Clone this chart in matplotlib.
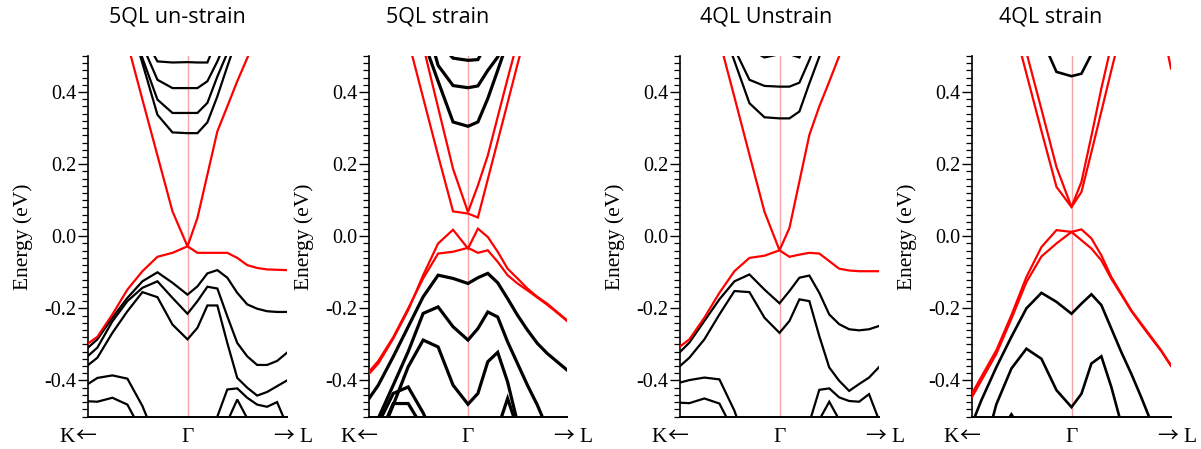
import matplotlib
matplotlib.use("Agg")
import matplotlib.pyplot as plt
from matplotlib.ticker import MultipleLocator

plt.rcParams["axes.unicode_minus"] = False
plt.rcParams["font.family"] = ["Liberation Serif", "DejaVu Serif"]

# k-path sampling: K side is negative, L side positive, Gamma at 0
K_PATH = [-1.057, -0.906, -0.755, -0.604, -0.453, -0.302, -0.151, 0.0,
          0.1, 0.2, 0.3, 0.4, 0.5, 0.6, 0.7, 0.8, 0.9, 1.0]

PANEL_TITLES = ["5QL un-strain", "5QL strain", "4QL Unstrain", "4QL strain"]
# high-symmetry point names at the path ends and centre, with direction arrows
KPOINT_NAMES = ["K", "\u0393", "L"]
KPOINT_ARROWS = ["\u2190", "", "\u2192"]

# ---- 5QL, unstrained: surface (red) and bulk (black) bands, eV ----
QL5_UNSTRAIN_RED = [
    [0.95, 0.85, 0.70, 0.536, 0.379, 0.224, 0.069, -0.028, 0.051, 0.171, 0.291, 0.360, 0.430, 0.494, 0.560, 0.620, 0.680, 0.740],
    [-0.309, -0.279, -0.217, -0.148, -0.097, -0.057, -0.046, -0.028, -0.046, -0.046, -0.046, -0.046, -0.060, -0.080, -0.088, -0.092, -0.093, -0.094],
]
QL5_UNSTRAIN_BLACK = [
    [-0.323, -0.286, -0.226, -0.171, -0.125, -0.100, -0.129, -0.162, -0.139, -0.103, -0.094, -0.115, -0.157, -0.189, -0.201, -0.208, -0.210, -0.210],
    [-0.346, -0.309, -0.236, -0.180, -0.143, -0.125, -0.171, -0.215, -0.180, -0.140, -0.145, -0.222, -0.296, -0.333, -0.357, -0.357, -0.346, -0.323],
    [-0.370, -0.337, -0.268, -0.208, -0.155, -0.169, -0.245, -0.286, -0.254, -0.192, -0.192, -0.296, -0.393, -0.420, -0.442, -0.432, -0.416, -0.400],
    [-0.420, -0.393, -0.386, -0.395, -0.471, -0.573, -0.650, -0.700, -0.650, -0.580, -0.500, -0.425, -0.422, -0.448, -0.467, -0.473, -0.460, -0.525],
    [-0.457, -0.459, -0.448, -0.467, -0.545, -0.600, -0.650, -0.700, -0.680, -0.630, -0.580, -0.514, -0.453, -0.505, -0.550, -0.600, -0.650, -0.700],
    [0.90, 0.80, 0.70, 0.620, 0.480, 0.337, 0.288, 0.286, 0.286, 0.316, 0.388, 0.471, 0.550, 0.630, 0.700, 0.780, 0.860, 0.940],
    [0.95, 0.85, 0.75, 0.640, 0.494, 0.379, 0.342, 0.342, 0.342, 0.370, 0.443, 0.508, 0.580, 0.660, 0.740, 0.820, 0.900, 0.980],
    [1.00, 0.90, 0.80, 0.680, 0.530, 0.434, 0.411, 0.411, 0.411, 0.430, 0.485, 0.550, 0.620, 0.700, 0.780, 0.860, 0.940, 1.000],
    [1.05, 0.95, 0.85, 0.720, 0.560, 0.485, 0.482, 0.483, 0.482, 0.482, 0.550, 0.620, 0.700, 0.780, 0.860, 0.940, 1.000, 1.050],
]

# ---- 5QL, strained ----
QL5_STRAIN_RED = [
    [1.02, 0.86, 0.70, 0.544, 0.384, 0.224, 0.069, 0.063, 0.052, 0.158, 0.264, 0.370, 0.477, 0.580, 0.680, 0.780, 0.880, 0.980],
    [1.15, 1.00, 0.85, 0.700, 0.528, 0.357, 0.187, 0.067, 0.141, 0.224, 0.331, 0.437, 0.540, 0.640, 0.740, 0.840, 0.940, 1.040],
    [-0.399, -0.353, -0.284, -0.205, -0.108, -0.020, 0.018, -0.034, 0.021, -0.002, -0.043, -0.090, -0.117, -0.145, -0.168, -0.187, -0.210, -0.233],
    [-0.394, -0.346, -0.280, -0.200, -0.117, -0.048, -0.043, -0.032, -0.046, -0.039, -0.071, -0.108, -0.131, -0.150, -0.170, -0.190, -0.212, -0.235],
]
QL5_STRAIN_BLACK = [
    [-0.473, -0.413, -0.334, -0.251, -0.168, -0.108, -0.117, -0.131, -0.115, -0.103, -0.129, -0.173, -0.219, -0.260, -0.297, -0.325, -0.348, -0.371],
    [-0.620, -0.505, -0.413, -0.320, -0.214, -0.196, -0.251, -0.288, -0.256, -0.210, -0.224, -0.293, -0.353, -0.413, -0.468, -0.533, -0.600, -0.670],
    [-0.750, -0.570, -0.468, -0.362, -0.288, -0.307, -0.413, -0.466, -0.436, -0.348, -0.322, -0.404, -0.517, -0.600, -0.680, -0.750, -0.820, -0.900],
    [-0.650, -0.520, -0.436, -0.418, -0.490, -0.580, -0.660, -0.720, -0.700, -0.640, -0.580, -0.600, -0.660, -0.720, -0.780, -0.840, -0.900, -0.960],
    [-0.700, -0.560, -0.464, -0.464, -0.533, -0.620, -0.700, -0.760, -0.740, -0.680, -0.620, -0.680, -0.740, -0.800, -0.860, -0.920, -0.980, -1.040],
    [-0.800, -0.760, -0.720, -0.680, -0.640, -0.620, -0.640, -0.680, -0.640, -0.600, -0.533, -0.450, -0.533, -0.600, -0.660, -0.720, -0.780, -0.840],
    [0.950, 0.850, 0.750, 0.650, 0.545, 0.430, 0.317, 0.305, 0.317, 0.382, 0.460, 0.540, 0.620, 0.700, 0.780, 0.860, 0.940, 1.020],
    [1.000, 0.900, 0.800, 0.700, 0.620, 0.474, 0.418, 0.412, 0.417, 0.460, 0.497, 0.560, 0.640, 0.720, 0.800, 0.880, 0.960, 1.040],
    [1.050, 0.950, 0.850, 0.750, 0.650, 0.540, 0.494, 0.488, 0.490, 0.540, 0.600, 0.680, 0.760, 0.840, 0.920, 1.000, 1.080, 1.160],
]

# ---- 4QL, unstrained ----
QL4_UNSTRAIN_RED = [
    [1.00, 0.85, 0.70, 0.544, 0.386, 0.226, 0.068, -0.039, 0.023, 0.152, 0.281, 0.360, 0.429, 0.500, 0.570, 0.640, 0.710, 0.780],
    [-0.318, -0.286, -0.226, -0.157, -0.097, -0.060, -0.054, -0.039, -0.057, -0.051, -0.046, -0.048, -0.069, -0.090, -0.095, -0.097, -0.097, -0.097],
]
QL4_UNSTRAIN_BLACK = [
    [-0.337, -0.295, -0.235, -0.175, -0.125, -0.106, -0.148, -0.186, -0.152, -0.115, -0.109, -0.157, -0.217, -0.244, -0.258, -0.261, -0.258, -0.249],
    [-0.374, -0.337, -0.286, -0.217, -0.152, -0.155, -0.226, -0.268, -0.235, -0.175, -0.180, -0.277, -0.364, -0.401, -0.429, -0.410, -0.392, -0.363],
    [-0.410, -0.399, -0.392, -0.397, -0.484, -0.600, -0.680, -0.720, -0.660, -0.600, -0.517, -0.426, -0.422, -0.447, -0.457, -0.459, -0.438, -0.510],
    [-0.461, -0.463, -0.450, -0.464, -0.545, -0.620, -0.700, -0.750, -0.700, -0.640, -0.580, -0.509, -0.459, -0.509, -0.560, -0.620, -0.680, -0.740],
    [0.90, 0.80, 0.70, 0.600, 0.486, 0.369, 0.330, 0.327, 0.327, 0.346, 0.424, 0.498, 0.580, 0.660, 0.740, 0.820, 0.900, 0.980],
    [0.95, 0.85, 0.75, 0.640, 0.520, 0.434, 0.417, 0.415, 0.415, 0.426, 0.489, 0.560, 0.640, 0.720, 0.800, 0.880, 0.960, 1.040],
    [1.00, 0.90, 0.80, 0.700, 0.600, 0.520, 0.496, 0.505, 0.505, 0.496, 0.560, 0.640, 0.720, 0.800, 0.880, 0.960, 1.040, 1.120],
]

# ---- 4QL, strained ----
QL4_STRAIN_RED = [
    [1.20, 0.95, 0.78, 0.610, 0.451, 0.292, 0.137, 0.081, 0.123, 0.233, 0.346, 0.460, 0.570, 0.680, 0.790, 0.900, 1.000, 1.100],
    [1.30, 1.05, 0.85, 0.680, 0.510, 0.352, 0.192, 0.081, 0.151, 0.278, 0.410, 0.530, 0.650, 0.770, 0.890, 1.000, 1.100, 1.200],
    [-0.464, -0.390, -0.316, -0.219, -0.113, -0.030, 0.017, 0.012, 0.019, -0.006, -0.053, -0.113, -0.159, -0.205, -0.242, -0.279, -0.316, -0.358],
    [-0.474, -0.400, -0.326, -0.229, -0.127, -0.056, -0.020, 0.012, -0.011, -0.034, -0.067, -0.118, -0.162, -0.207, -0.245, -0.282, -0.318, -0.360],
    [1.50, 1.40, 1.30, 1.20, 1.10, 1.00, 0.95, 0.90, 0.88, 0.85, 0.82, 0.79, 0.76, 0.72, 0.68, 0.64, 0.600, 0.465],
]
QL4_STRAIN_BLACK = [
    [-0.560, -0.455, -0.363, -0.279, -0.200, -0.157, -0.182, -0.215, -0.187, -0.161, -0.191, -0.256, -0.321, -0.381, -0.446, -0.515, -0.600, -0.680],
    [-0.750, -0.620, -0.466, -0.367, -0.312, -0.340, -0.427, -0.474, -0.437, -0.353, -0.333, -0.418, -0.520, -0.620, -0.700, -0.780, -0.860, -0.940],
    [-0.800, -0.700, -0.560, -0.494, -0.560, -0.660, -0.740, -0.800, -0.780, -0.740, -0.700, -0.680, -0.700, -0.740, -0.780, -0.820, -0.860, -0.900],
    [1.000, 0.850, 0.750, 0.680, 0.620, 0.550, 0.456, 0.444, 0.451, 0.505, 0.560, 0.640, 0.720, 0.800, 0.880, 0.960, 1.040, 1.120],
]

PANELS = [
    (QL5_UNSTRAIN_RED, QL5_UNSTRAIN_BLACK),
    (QL5_STRAIN_RED, QL5_STRAIN_BLACK),
    (QL4_UNSTRAIN_RED, QL4_UNSTRAIN_BLACK),
    (QL4_STRAIN_RED, QL4_STRAIN_BLACK),
]

W, H = 1201, 449
fig = plt.figure(figsize=(W / 100, H / 100), dpi=100)
PX = 0.72  # points per pixel at 100 dpi

# axes frames in pixels: left, width; shared top/bottom
AX_LEFT = [88, 369, 680, 972]
AX_WIDTH = [199, 198, 199, 199]
AX_TOP, AX_BOTTOM = 56, 416.5
TITLE_X = [177.5, 438, 766, 1051]
BLACK_LW = [1.6, 2.3, 1.6, 1.9]

# horizontal pixel offsets of point names and arrows from their k position
NAME_DX = [-20.5, 0.0, 19.5]
ARROW_DX = [-2.0, 0.0, -3.0]
LABEL_DROP = 25.0  # baseline distance below the frame, px

for i, (reds, blacks) in enumerate(PANELS):
    ax = fig.add_axes([AX_LEFT[i] / W, 1 - AX_BOTTOM / H,
                       AX_WIDTH[i] / W, (AX_BOTTOM - AX_TOP) / H])
    ax.axvline(0.0, color="#f3a3a3", lw=1.0, zorder=1)
    for band in blacks:
        ax.plot(K_PATH, band, color="black", lw=BLACK_LW[i], zorder=2,
                solid_joinstyle="miter")
    for band in reds:
        ax.plot(K_PATH, band, color="#ff0000", lw=1.6, zorder=3,
                solid_joinstyle="miter")

    ax.set_xlim(-1, 1)
    ax.set_ylim(-0.5, 0.5)
    for side in ("top", "right"):
        ax.spines[side].set_visible(False)
    ax.spines["left"].set_linewidth(1.2)
    ax.spines["bottom"].set_linewidth(1.4)

    ax.yaxis.set_minor_locator(MultipleLocator(0.02))
    ax.set_yticks([-0.4, -0.2, 0.0, 0.2, 0.4])
    ax.set_yticklabels(["-0.4", "-0.2", "0.0", "0.2", "0.4"])
    ax.tick_params(axis="y", which="major", direction="out", length=7,
                   width=1.0, pad=1.5, labelsize=14.5)
    ax.tick_params(axis="y", which="minor", direction="out", length=4.5,
                   width=0.9)

    ax.set_xticks([])
    for k, name, arrow, ndx, adx in zip([-1, 0, 1], KPOINT_NAMES,
                                        KPOINT_ARROWS, NAME_DX, ARROW_DX):
        ax.annotate(name, xy=(k, 0), xycoords=("data", "axes fraction"),
                    xytext=(ndx * PX, -LABEL_DROP * PX),
                    textcoords="offset points", ha="center", va="baseline",
                    fontsize=15.5, annotation_clip=False)
        if arrow:
            ax.annotate(arrow, xy=(k, 0), xycoords=("data", "axes fraction"),
                        xytext=(adx * PX, -LABEL_DROP * PX),
                        textcoords="offset points", ha="center",
                        va="baseline", fontsize=15,
                        family=["Noto Sans CJK KR", "DejaVu Sans"],
                        annotation_clip=False)

    ax.set_ylabel("Energy (eV)", fontsize=15.5, va="center")
    ax.yaxis.set_label_coords(-65 / AX_WIDTH[i], 0.5)

    fig.text(TITLE_X[i] / W, 1 - 17.5 / H, PANEL_TITLES[i],
             ha="center", va="center", fontsize=15.5,
             family=["Open Sans", "DejaVu Sans"])

fig.savefig("out.png", dpi=100)
